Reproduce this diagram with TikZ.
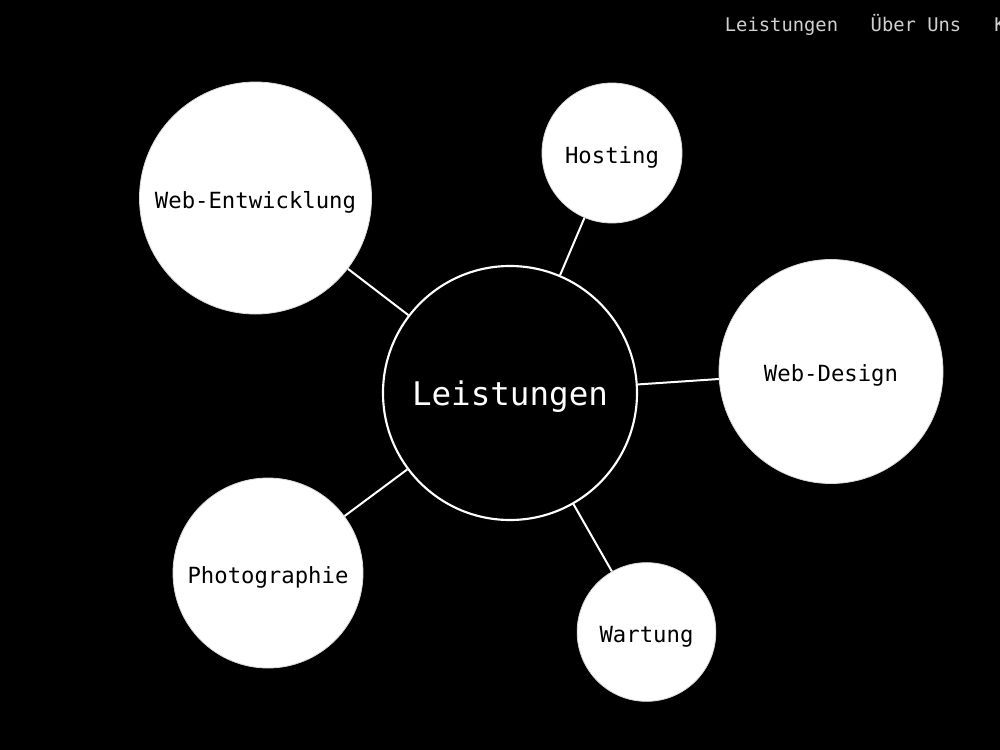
\documentclass[tikz,border=0pt]{standalone}
\usepackage{fontspec}
\setmonofont{DejaVu Sans Mono}
\setmainfont{DejaVu Sans Mono}
\definecolor{navgray}{HTML}{D0D0D0}
\begin{document}
\begin{tikzpicture}[x=0.75pt,y=-0.75pt,
  bubble/.style={circle,fill=white,draw=white!85!black,line width=0.6pt,inner sep=0pt,text=black,text height=15.2pt,text depth=0pt,font=\fontsize{16.7}{20}\selectfont},
  hub/.style={circle,fill=black,draw=white,line width=1.6pt,inner sep=0pt,text=white,text height=18pt,text depth=0pt,font=\fontsize{24.4}{29}\selectfont},
  link/.style={draw=white,line width=1.5pt},
  nav/.style={text=navgray,inner sep=0pt,anchor=base,font=\fontsize{14.1}{17}\selectfont}]
\fill[black] (0,0) rectangle (1000,750);
\useasboundingbox (0,0) rectangle (1000,750);
\clip (0,0) rectangle (1000,750);
% navigation
\node[nav] (n1) at (781.5,31) {Leistungen};
\node[nav] (n2) at (916,31) {Über Uns};
\node[nav,anchor=base west] (n3) at (994,31) {K};
% nodes
\node[hub,minimum size=190.5pt] (c) at (510,393) {Leistungen};
\node[bubble,minimum size=174pt] (we) at (255.5,198) {Web-Entwicklung};
\node[bubble,minimum size=105pt] (ho) at (612,153) {Hosting};
\node[bubble,minimum size=168pt] (wd) at (831,371.5) {Web-Design};
\node[bubble,minimum size=142.5pt] (ph) at (268,573) {Photographie};
\node[bubble,minimum size=104pt] (wa) at (646.5,632) {Wartung};
% connectors
\draw[link] (c) -- (we);
\draw[link] (c) -- (ho);
\draw[link] (c) -- (wd);
\draw[link] (c) -- (ph);
\draw[link] (c) -- (wa);
\end{tikzpicture}
\end{document}
